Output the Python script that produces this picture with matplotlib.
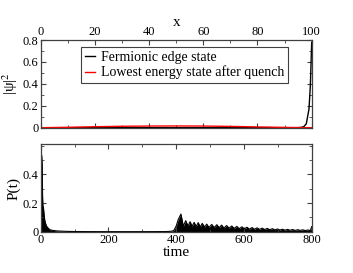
import matplotlib
matplotlib.use("Agg")
import matplotlib.pyplot as plt
from matplotlib.ticker import MultipleLocator

plt.rcParams['font.family'] = ['Liberation Serif', 'DejaVu Serif']
plt.rcParams['mathtext.fontset'] = 'stix'

# ---------------- data ----------------
# top panel: |psi|^2 vs site x
x_edge = [0, 90, 94, 95, 96, 97, 98, 99, 99.5, 100]
psi_edge = [0, 0, 0.0005, 0.001, 0.003, 0.008, 0.035, 0.17, 0.38, 0.78]

x_low = [0, 10, 20, 30, 40, 50, 60, 70, 80, 90, 95, 100]
psi_low = [0, 0.004, 0.009, 0.013, 0.015, 0.016, 0.015, 0.012, 0.007, 0.003, 0.001, 0]

# bottom panel: P(t) envelope (upper edge of the dense oscillations)
t_decay = [0, 1.5, 3, 4.5, 5.5, 6.5, 8, 10, 12, 14, 17, 20, 27, 35, 50, 80,
           100, 150, 200, 300, 370, 385]
p_decay = [0.55, 0.545, 0.53, 0.46, 0.25, 0.18, 0.17, 0.12, 0.08, 0.06, 0.04,
           0.03, 0.014, 0.009, 0.005, 0.002, 0.0012, 0.0006, 0.0004, 0.0004,
           0.001, 0.003]

t_peaks = [414, 428, 441, 453, 465, 477, 490, 505, 520, 534, 549, 564, 579, 594,
           609, 624, 639, 654, 669, 684, 699, 714, 729, 744, 759, 774, 789, 800]
p_peaks = [0.123, 0.077, 0.07, 0.065, 0.063, 0.058, 0.053, 0.051, 0.049, 0.046,
           0.043, 0.04, 0.037, 0.034, 0.031, 0.029, 0.027, 0.025, 0.023, 0.021,
           0.019, 0.017, 0.016, 0.015, 0.014, 0.013, 0.012, 0.035]

t_troughs = [393, 400, 406, 421, 435, 447, 459, 471, 484, 497, 512, 527, 541,
             556, 571, 586, 601, 616, 631, 646, 661, 676, 691, 706, 721, 736,
             751, 766, 781, 796]
p_troughs = [0.008, 0.04, 0.085, 0.038, 0.04, 0.038, 0.036, 0.034, 0.032, 0.03,
             0.029, 0.028, 0.026, 0.025, 0.023, 0.021, 0.02, 0.018, 0.017, 0.016,
             0.015, 0.014, 0.013, 0.012, 0.011, 0.01, 0.009, 0.009, 0.008, 0.008]

# ---------------- figure ----------------
fig = plt.figure(figsize=(3.53, 2.73), dpi=100)
frame_col = '#404040'

ax1 = fig.add_axes([0.1153, 0.5322, 0.7677, 0.3212])
ax2 = fig.add_axes([0.1153, 0.1513, 0.7677, 0.3200])

ax1.plot(x_edge, psi_edge, color='black', lw=1.0, label='Fermionic edge state')
ax1.plot(x_low, psi_low, color='red', lw=1.0, label='Lowest energy state after quench')
ax1.set_xlim(0, 100)
ax1.set_ylim(0, 0.8)
ax1.xaxis.set_major_locator(MultipleLocator(20))
ax1.xaxis.set_minor_locator(MultipleLocator(10))
ax1.set_yticks([0, 0.2, 0.4, 0.6, 0.8])
ax1.set_yticklabels(['0', '0.2', '0.4', '0.6', '0.8'])
ax1.yaxis.set_minor_locator(MultipleLocator(0.1))
ax1.tick_params(which='both', direction='in', top=True, bottom=True, left=True, right=True,
                labeltop=True, labelbottom=False, labelsize=9, color=frame_col, pad=1.5)
ax1.tick_params(which='major', length=3.5)
ax1.tick_params(which='minor', length=2)
ax1.xaxis.set_label_position('top')
ax1.set_xlabel('x', fontsize=11, labelpad=0)
ax1.set_ylabel('|ψ|$^2$', fontsize=11, labelpad=2)
leg = ax1.legend(loc='upper left', bbox_to_anchor=(0.15, 0.92), fontsize=10,
                 handlelength=0.7, handletextpad=0.5, borderpad=0.25,
                 labelspacing=0.15, fancybox=False, framealpha=1, borderaxespad=0)
leg.get_frame().set_edgecolor(frame_col)
leg.get_frame().set_linewidth(0.8)

# bottom panel
t_rev = sorted(t_peaks + t_troughs)
p_map = dict(zip(t_peaks, p_peaks))
p_map.update(dict(zip(t_troughs, p_troughs)))
p_rev = [p_map[t] for t in t_rev]

t_all = t_decay + t_rev
p_all = p_decay + p_rev
ax2.fill_between(t_all, 0, p_all, color='black', lw=0)
ax2.plot(t_all, p_all, color='black', lw=0.8)
ax2.set_xlim(0, 800)
ax2.set_ylim(0, 0.61)
ax2.xaxis.set_major_locator(MultipleLocator(200))
ax2.xaxis.set_minor_locator(MultipleLocator(100))
ax2.set_yticks([0, 0.2, 0.4])
ax2.set_yticklabels(['0', '0.2', '0.4'])
ax2.yaxis.set_minor_locator(MultipleLocator(0.1))
ax2.tick_params(which='both', direction='in', top=True, bottom=True, left=True, right=True,
                labelsize=9, color=frame_col, pad=1.5)
ax2.tick_params(which='major', length=3.5)
ax2.tick_params(which='minor', length=2)
ax2.set_xlabel('time', fontsize=11, labelpad=0)
ax2.set_ylabel('P(t)', fontsize=11, labelpad=2)

for ax in (ax1, ax2):
    for s in ax.spines.values():
        s.set_color(frame_col)
        s.set_linewidth(0.9)

fig.savefig('out.png', dpi=100)
